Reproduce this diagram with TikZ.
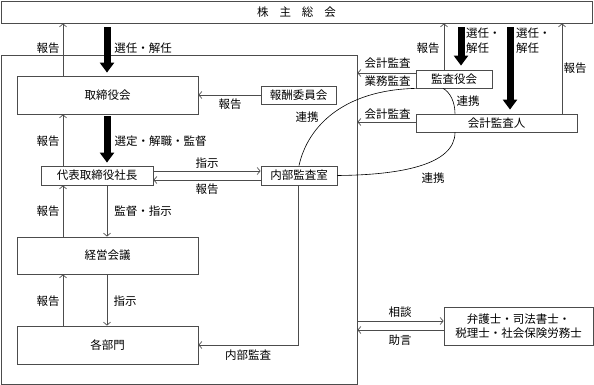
\documentclass[tikz,border=0pt]{standalone}
\usepackage{fontspec}
\setmainfont{Noto Sans CJK JP}
\usetikzlibrary{arrows.meta,calc}
\definecolor{lc}{gray}{0.3}
\begin{document}
\begin{tikzpicture}[x=1pt,y=-1pt,
  font=\fontsize{11.5}{15}\selectfont,
  box/.style={draw=lc, line width=0.8pt, inner sep=0pt, align=center},
  arr/.style={draw=lc, line width=0.7pt, -{Straight Barb[length=3pt,width=7pt]}},
  link/.style={draw=black, line width=0.6pt},
  thk/.style={draw=black, line width=7pt, -{Triangle[length=10pt,width=14pt]}},
  lbl/.style={inner sep=0pt, align=left}
]
\useasboundingbox (0,0) rectangle (594,385);

% boxes
\node[box, minimum width=591, minimum height=22] (sh) at (296.5,12) {株\hspace{0.95em}主\hspace{0.95em}総\hspace{0.95em}会};
\node[box, minimum width=356, minimum height=329] (co) at (179,219.5) {};
\node[box, minimum width=181, minimum height=38] (bod) at (107.5,95) {取締役会};
\node[box, minimum width=75, minimum height=18] (hou) at (298.5,95) {報酬委員会};
\node[box, minimum width=112, minimum height=19] (ceo) at (97,175.5) {代表取締役社長};
\node[box, minimum width=76, minimum height=19] (ia) at (299,175.5) {内部監査室};
\node[box, minimum width=181, minimum height=37] (mg) at (107.5,255.5) {経営会議};
\node[box, minimum width=181, minimum height=38] (dep) at (107.5,345) {各部門};
\node[box, minimum width=76, minimum height=18] (ka) at (454,79) {監査役会};
\node[box, minimum width=161, minimum height=18] (au) at (496.5,123) {会計監査人};
\node[box, minimum width=149, minimum height=38, font=\fontsize{11.5}{14}\selectfont] (law) at (518.5,326) {弁護士・司法書士・\\税理士・社会保険労務士};

% x positions
\coordinate (xA) at (63,0);
\coordinate (xB) at (107,0);
\coordinate (xC) at (298,0);
\coordinate (xD) at (444,0);
\coordinate (xE) at (461,0);
\coordinate (xF) at (510,0);
\coordinate (xG) at (562,0);
\coordinate (xH) at (455,0);
\coordinate (xK) at (443,0);

% left column
\draw[arr] (bod.north -| xA) -- (sh.south -| xA);
\draw[thk] ($(sh.south -| xB)+(0,4)$) -- ($(bod.north -| xB)+(0,-3)$);
\draw[arr] (hou.west) -- (bod.east);
\draw[arr] (ceo.north -| xA) -- (bod.south -| xA);
\draw[thk] ($(bod.south -| xB)+(0,2)$) -- ($(ceo.north -| xB)+(0,-3)$);
\draw[arr] ($(ceo.east)+(0,-4.5)$) -- ($(ia.west)+(0,-4.5)$);
\draw[arr] ($(ia.west)+(0,4.5)$) -- ($(ceo.east)+(0,4.5)$);
\draw[arr] (mg.north -| xA) -- (ceo.south -| xA);
\draw[arr] (ceo.south -| xB) -- (mg.north -| xB);
\draw[arr] (dep.north -| xA) -- (mg.south -| xA);
\draw[arr] (mg.south -| xB) -- (dep.north -| xB);
\draw[arr] (ia.south -| xC) |- (dep.east);

% right side
\draw[arr] (ka.north -| xD) -- (sh.south -| xD);
\draw[thk] ($(sh.south -| xE)+(0,4)$) -- ($(ka.north -| xE)+(0,-4)$);
\draw[thk] ($(sh.south -| xF)+(0,4)$) -- ($(au.north -| xF)+(0,-4)$);
\draw[arr] (au.north -| xG) -- (sh.south -| xG);
\coordinate (kaL) at ($(ka.west)+(0,-6)$);
\draw[arr] (kaL) -- (kaL -| co.east);
\coordinate (auL) at ($(au.west)+(0,-1)$);
\draw[arr] (auL) -- (auL -| co.east);
\coordinate (lawT) at ($(law.west)+(0,-5)$);
\coordinate (lawB) at ($(law.west)+(0,4)$);
\draw[arr] (lawT -| co.east) -- (lawT);
\draw[arr] (lawB) -- (lawB -| co.east);

% links
\draw[link] (ka.south west) .. controls (345,90) and (308,125) .. (ia.north);
\draw[link] (ka.south -| xK) .. controls (450,92) and (455,102) .. (au.north -| xH);
\draw[link] (au.south -| xH) .. controls (455,165) and (400,175) .. (ia.east);

% labels
\node[lbl] (l1) at (48,48) {報告};
\node[lbl] (l2) at (143,48) {選任・解任};
\node[lbl] (l3) at (230,104) {報告};
\node[lbl] (l4) at (48,141) {報告};
\node[lbl] (l5) at (160.5,141) {選定・解職・監督};
\node[lbl] (l6) at (207,163) {指示};
\node[lbl] (l7) at (207,189) {報告};
\node[lbl] (l8) at (48,211) {報告};
\node[lbl] (l9) at (143,211) {監督・指示};
\node[lbl] (l10) at (48,301) {報告};
\node[lbl] (l11) at (125,301) {指示};
\node[lbl] (l12) at (248,355) {内部監査};
\node[lbl] (l13) at (428,48) {報告};
\node[lbl, anchor=west] (l14) at (466,40.5) {選任・\\解任};
\node[lbl, anchor=west] (l15) at (516,40.5) {選任・\\解任};
\node[lbl] (l16) at (575,68) {報告};
\node[lbl] (l17) at (387.5,63) {会計監査};
\node[lbl] (l18) at (387.5,81) {業務監査};
\node[lbl] (l19) at (387.5,114) {会計監査};
\node[lbl] (l20) at (468,101) {連携};
\node[lbl] (l21) at (307,117) {連携};
\node[lbl] (l22) at (433,178) {連携};
\node[lbl] (l23) at (400,312) {相談};
\node[lbl] (l24) at (400,340) {助言};
\end{tikzpicture}
\end{document}
